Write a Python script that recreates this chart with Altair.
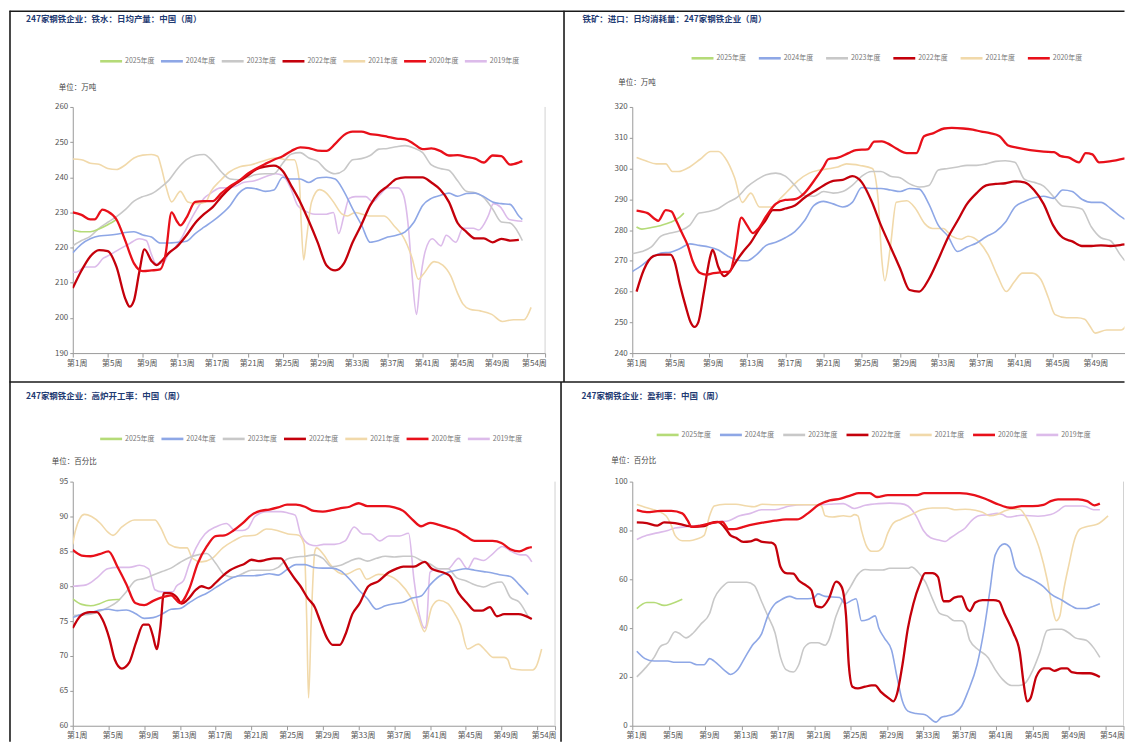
import altair as alt
import pandas as pd

YEARS = ["2025年度", "2024年度", "2023年度", "2022年度", "2021年度", "2020年度", "2019年度"]
COLORS = ["#B5DB78", "#8EA7E6", "#C8C8C8", "#C4000B", "#F1D9AA", "#E8101A", "#DCBBEA"]
WIDTHS = [1.6, 1.6, 1.6, 2.3, 1.6, 2.3, 1.6]
DRAW_ORDER = ["2019年度", "2021年度", "2023年度", "2024年度", "2025年度", "2022年度", "2020年度"]


def wk(vals, tail=()):
    return [(i + 1, v) for i, v in enumerate(vals)] + list(tail)


# ---------------- 铁水日均产量 (万吨) ----------------
P1_2025 = [(1, 225), (2, 224.5), (3, 224.5), (4, 225.3), (5, 226.5), (6, 228)]
P1_2024 = wk([218.5, 221, 222.5, 223.3, 223.5, 223.8, 224.3, 224.5, 223.6, 223,
              221.3, 221.3, 221.5, 221.8, 224, 225.8, 227.5, 229.5, 232, 235.5,
              237, 236.7, 236, 236.4, 240, 239.5, 239.5, 238.5, 239.8, 240,
              239.5, 236, 231, 226.5, 221.5, 222, 223, 223.5, 224.5, 227.2,
              232, 234, 234.8, 235.5, 234.6, 235.4, 235.5, 234.5, 233, 232.5,
              232.3, 229], [(52.4, 228)])
P1_2023 = wk([220.5, 222, 223.2, 225.5, 227.2, 228.8, 230.8, 233.2, 234.5, 235.3,
              237, 239.2, 242.5, 245, 246.2, 246.5, 244.5, 241.5, 239.5, 239.3,
              240, 240.8, 241, 241, 244, 246.6, 247, 245.5, 244.5, 242,
              241, 242, 245, 245.3, 246.2, 248, 248.2, 248.7, 249, 248.3,
              247, 243.5, 242.5, 242, 239, 236, 235.6, 234.2, 231, 227.3,
              227, 224], [(52.4, 222)])
P1_2022 = [(1, 208.5), (2, 213.5), (3, 217.5), (4, 219.3), (5, 219), (6, 214.5), (7, 205.5),
           (7.5, 203.2), (8, 205), (8.6, 213), (9.2, 219.5), (10, 216.2), (10.6, 215), (11, 215.8),
           (12, 218.5), (13, 220.5), (14, 223.5), (15, 227), (16, 229.5), (17, 231.5), (18, 234.5),
           (19, 237), (20, 238.8), (21, 240.5), (22, 242.3), (23, 243), (24, 243.3), (25, 241.8),
           (26, 237.5), (27, 233), (28, 227.5), (29, 221.5), (30, 215), (31, 213.5), (32, 215.5),
           (33, 221.5), (34, 226.5), (35, 232), (36, 235.5), (37, 237.5), (38, 239.5), (39, 240),
           (40, 240), (41, 240), (42, 238.5), (43, 236.5), (44, 233), (45, 227), (46, 224.5),
           (47, 222.6), (48, 222.6), (49, 221.5), (50, 222.5), (51, 222), (52, 222.2)]
P1_2021 = [(1, 245.2), (2, 245), (3, 244), (4, 243.7), (5, 242.5), (6, 242.2), (7, 243.5), (8, 245.5),
           (9, 246.3), (10, 246.5), (10.7, 246), (11.1, 243), (11.7, 237), (12.3, 233), (13.3, 236),
           (14.15, 233), (15.2, 232.5), (16.2, 233), (16.8, 236), (17.85, 239), (18.9, 241.5),
           (20.1, 243), (21.3, 243.5), (22.6, 244.5), (24.2, 245.5), (25.5, 245), (26.3, 245),
           (26.9, 239), (27.1, 228), (27.4, 216.5), (27.7, 222), (28.3, 233), (29.2, 236.5),
           (30, 235.5), (30.8, 233), (31.8, 229.5), (32.4, 229), (33.3, 230), (34.9, 229),
           (36.6, 229), (37.8, 226), (38.8, 223), (39.8, 217), (40.5, 211), (41.1, 212.5),
           (42.3, 216), (43.3, 215), (44.2, 212), (45, 207), (45.6, 204), (46.4, 202.5),
           (47.6, 202), (48.9, 201), (50.1, 199), (51.4, 199.5), (52.6, 199.5), (53.4, 203)]
P1_2020 = [(1, 230), (2, 229.3), (3, 228), (3.5, 228), (4.4, 230.8), (5, 230.3), (6, 228), (7, 222),
           (8, 215.5), (9, 213.3), (10, 213.5), (11, 213.8), (11.6, 218), (12.3, 230), (12.9, 227.5),
           (13.3, 226.3), (14, 228.5), (15, 233), (16, 233.2), (17, 233.2), (18, 235.5), (19, 237.5),
           (20, 239), (21, 241), (22, 242.5), (23, 243.8), (24, 245), (25, 246), (26, 247.5),
           (27, 248.5), (28, 248.3), (29, 247.6), (30, 247.5), (31, 249.5), (32, 252), (33, 253),
           (34, 253), (35, 252.3), (36, 252), (37, 251.5), (38, 251), (39, 250.8), (40, 249.5),
           (41, 248), (42, 248.2), (43, 247.5), (44, 246.2), (45, 246.3), (46, 245.8), (47, 245.3),
           (48, 244.2), (49, 246.2), (50, 246), (51, 243.6), (52, 244.2), (52.4, 244.6)]
P1_2019 = [(1, 213), (1.4, 213), (2.4, 214.5), (3.5, 214.5), (4.5, 217), (5.3, 218), (6.3, 219.5),
           (7.4, 221), (8.6, 222.5), (9.4, 222), (10, 218), (10.5, 215.5), (11.3, 215.5), (11.9, 218),
           (12.7, 220), (13.5, 223), (14.4, 227.5), (15.2, 231), (16, 234), (16.8, 235.5),
           (17.9, 237), (18.9, 237), (19.7, 237.5), (20.5, 238.5), (21.8, 239), (23.4, 240.5),
           (24.2, 241), (25, 240.5), (25.9, 237), (26.7, 232), (27.5, 230.5), (28.7, 229.5),
           (30, 229.5), (30.8, 230), (31.4, 224), (32, 229), (32.6, 234), (33.3, 234.5),
           (34.5, 234.5), (35.3, 233), (36.1, 235), (37, 237), (38.2, 237), (38.8, 235),
           (39.4, 225), (39.8, 212), (40.3, 201), (40.7, 210), (41.3, 219), (42.1, 222.5),
           (43.1, 220.5), (43.7, 223.5), (44.8, 221.5), (45.6, 225.5), (46.8, 225.5), (47.4, 225),
           (48.5, 229), (49.1, 232.5), (49.9, 231.5), (50.9, 228), (52.4, 227.5)]

# ---------------- 铁矿日均消耗量 (万吨) ----------------
P2_2025 = [(1.45, 281), (2, 280.3), (3, 280.8), (4, 281.5), (5, 282.5), (6, 284.3), (6.4, 285.5)]
P2_2024 = wk([266.5, 268.5, 271, 272.5, 272.8, 274, 275.5, 275, 274.5, 273.5,
              271.5, 270.2, 270, 272, 275, 276, 277.5, 279.5, 283, 288,
              289.3, 288.5, 287.5, 289, 293.8, 293.5, 293.5, 293, 292.5, 293.5,
              293.3, 288.5, 281.5, 278, 273, 274.5, 275.8, 277.8, 279.5, 282.5,
              287.5, 289.3, 290.5, 291, 290.3, 293, 292.5, 290, 289, 289,
              287, 284.5], [(52.5, 283.5)])
P2_2023 = wk([272.3, 273, 274.5, 278, 279, 279.8, 281.5, 285.5, 286, 287,
              289, 290.7, 294, 296.3, 298, 298.5, 297.5, 294.5, 291.2, 291,
              292.5, 292, 292.5, 294.5, 297.5, 299, 299, 297.5, 297, 295,
              294, 294.5, 299.5, 300, 300.5, 301, 301, 301.5, 302.3, 302.5,
              302, 296.5, 295.5, 294.3, 291, 287.8, 287.5, 286.8, 281, 277.5,
              276.5, 272], [(52.5, 270)])
P2_2022 = [(1.45, 260), (2.2, 267), (3.2, 271.5), (4, 272), (5, 272), (5.4, 270), (6, 262), (6.6, 255),
           (7.1, 250), (7.5, 248.5), (7.9, 250), (8.5, 260), (9.2, 272), (9.4, 273.5), (10, 268),
           (10.6, 265), (11.3, 267), (11.9, 270), (12.6, 273), (13.4, 276), (14.2, 280), (14.9, 283),
           (15.7, 286.5), (16.4, 286.5), (17, 287), (18, 288), (19, 290.5), (20, 292.5), (21, 294.5),
           (22, 296), (23, 296.3), (24, 297.5), (25, 295.5), (26, 289.5), (27, 281.5), (28, 274.5),
           (29, 267.5), (30, 260.5), (31, 260), (32, 264), (33, 270.5), (34, 277.5), (35, 283),
           (36, 288.5), (37, 292), (38, 294.5), (39, 295), (40, 295.2), (41, 295.8), (42, 295.5),
           (43, 293), (44, 288.5), (45, 281.5), (46, 277.5), (47, 276.3), (48, 274.8), (49, 274.8),
           (50, 275), (51, 274.8), (52, 275.1), (52.5, 275.3)]
P2_2021 = [(1.45, 303.6), (2.4, 302.5), (3.5, 301.5), (4.5, 301.5), (5.2, 299), (5.8, 299), (7, 300.5),
           (8.1, 303), (9.2, 305.5), (10, 305.5), (10.7, 303.5), (11.7, 297), (12.5, 289), (13.4, 292),
           (14.3, 287.5), (15.7, 287.5), (16.4, 290), (17.2, 292.5), (18.3, 296), (19.5, 298.5),
           (20.6, 299.5), (21.7, 300), (22.5, 300.5), (23.4, 301.5), (24.8, 301), (26.1, 300),
           (26.7, 290), (27.1, 270), (27.4, 263.5), (28, 275), (28.6, 289), (29.7, 289.5),
           (30.6, 287), (31.6, 282), (32.4, 280.5), (33.5, 280.5), (34.4, 278), (35.4, 277),
           (36.1, 278), (37.3, 276), (38.2, 272), (39.2, 265), (40.1, 260), (40.9, 263),
           (41.8, 266), (42.8, 266), (43.7, 264), (44.5, 258), (45.2, 252.5), (46.4, 251.5),
           (47.5, 251.5), (48.3, 251), (48.8, 249), (49.4, 246.5), (50.6, 247.5), (52.1, 247.5),
           (53.25, 252.5)]
P2_2020 = [(1.45, 286.3), (2, 286), (2.6, 285.5), (3.4, 283.5), (3.7, 283), (4.5, 286.5), (5.1, 286),
           (5.6, 283), (6.2, 279), (6.8, 275), (7.3, 270), (8.1, 266), (8.7, 265.5), (9.5, 266),
           (10.4, 266.3), (11.2, 266.5), (11.7, 272), (12.4, 284), (13, 281.5), (13.6, 279),
           (14.2, 280.5), (15, 284.5), (16, 288.5), (17, 289.8), (18, 290), (19, 292), (20, 296),
           (21, 300.5), (21.5, 303), (22.5, 303.5), (23.6, 305), (24.4, 306), (25.6, 306.2),
           (26.3, 308.7), (27.1, 308.8), (27.8, 308), (28.6, 306.5), (29.7, 305), (30.7, 305),
           (31.5, 310.5), (32.5, 311.5), (33.6, 313), (34.4, 313.2), (35.6, 313), (36.6, 312.6),
           (37.5, 312), (38.4, 311.5), (39.4, 310.5), (40.3, 307.5), (41.2, 306.8), (42.6, 306),
           (44, 305.5), (45.1, 305.3), (45.8, 304), (46.6, 303.6), (47.7, 302), (48.4, 305),
           (49.1, 304.6), (49.8, 302), (50.9, 302.3), (52.5, 303.3)]

# ---------------- 高炉开工率 (%) ----------------
P3_2025 = [(1, 78.2), (2, 77.4), (3, 77.2), (4, 77.5), (5, 78), (6, 78.1), (6.3, 78.1)]
P3_2024 = wk([75.5, 76, 76.2, 76.6, 76.7, 76.5, 76.6, 76.1, 75.4, 75.5,
              76, 76.7, 76.8, 77.6, 78.4, 79, 79.8, 80.6, 81.3, 81.5,
              81.5, 81.6, 81.8, 81.6, 82.4, 83.1, 83.1, 82.7, 82.6, 82.6,
              82.2, 81, 79.5, 78.2, 76.7, 77.2, 77.5, 77.7, 78.3, 78.6,
              80.2, 81.4, 82, 82.3, 82.5, 82.3, 82.1, 81.9, 81.6, 81.4,
              80.2, 78.8])
P3_2023 = wk([75.8, 75.9, 76, 76.4, 77, 77.8, 79.2, 80.8, 81.1, 81.6,
              82.1, 82.6, 83.4, 84.1, 84.5, 84.7, 83.3, 81.6, 81.3, 81.8,
              82.3, 82.3, 82.3, 82.7, 83.9, 84.2, 84.3, 84.5, 84, 82.8,
              83, 83.6, 84, 83.6, 84, 84.3, 84.2, 84.3, 84.3, 83.7,
              83.2, 82.5, 82.5, 81.2, 80.8, 80.2, 79.9, 80.4, 80.6, 78.4,
              77.7, 75.6])
P3_2022 = [(1, 74), (1.9, 75.8), (2.9, 76.3), (3.7, 76.3), (4.3, 75.3), (5.1, 72.5), (5.7, 69.5),
           (6.5, 68.2), (7.3, 69), (8.1, 72), (8.9, 74.5), (9.5, 74.5), (9.95, 73), (10.4, 71),
           (10.8, 74), (11.2, 79), (11.8, 79), (12.6, 78.5), (13.2, 77.5), (13.8, 78), (14.8, 79.5),
           (15.4, 80), (16.2, 79.7), (17, 80.5), (17.8, 81.5), (18.6, 82.3), (19.4, 82.8),
           (20.2, 83.2), (21, 83.8), (21.8, 83.6), (22.7, 83.8), (23.5, 84), (24.3, 84), (25.1, 82.5),
           (25.9, 81), (26.5, 80), (27.3, 78.3), (28.1, 77), (28.7, 75), (29.5, 72.5), (30.1, 71.6),
           (30.9, 71.6), (31.5, 73), (32.3, 76), (33.1, 77.5), (34.1, 80), (35.2, 80.7), (36.4, 82),
           (37.2, 82.5), (38, 82.8), (39.2, 82.8), (40.4, 83.5), (41.2, 82.5), (42.4, 82),
           (43.2, 81.5), (44.2, 79), (45.2, 77.5), (46, 76.5), (46.8, 76.5), (47.7, 77), (48.5, 75.7),
           (49.3, 76), (50.9, 76), (52.4, 75.3)]
P3_2021 = [(1, 86), (1.3, 88), (2.3, 90.3), (3.1, 90), (4.1, 89), (4.9, 87.8), (5.5, 87.3), (6.5, 88.5),
           (7.9, 89.5), (10.2, 89.5), (10.8, 88.5), (11.8, 86), (13, 85.5), (13.8, 85.5), (14.4, 84),
           (15.4, 83.5), (16.6, 84), (17.8, 85.5), (19, 86.5), (20.2, 87.2), (21.4, 87.3), (22.7, 88.2),
           (23.9, 88), (25.1, 87.5), (26.3, 87.3), (26.9, 86), (27.2, 75), (27.4, 64), (27.7, 75),
           (28.1, 85), (28.3, 85.5), (29.1, 84.5), (29.9, 83), (30.7, 82), (31.5, 81.7), (33.1, 82.5),
           (33.9, 81), (35.2, 81.7), (36.4, 81.5), (37.6, 80.5), (38.8, 78.5), (39.6, 76),
           (40.4, 73.5), (41.2, 77), (42, 78), (43, 77.5), (43.8, 76), (44.4, 74.5), (45.2, 71),
           (46.4, 71.7), (47.2, 70.8), (48.1, 69.8), (49.3, 69.8), (49.7, 69.5), (50.1, 68.2),
           (51.3, 68), (52.5, 68), (52.9, 68.5), (53.5, 71)]
P3_2020 = wk([85.2, 84.4, 84.3, 84.6, 85, 82.8, 80.3, 77.6, 77.3, 77.9,
              78.4, 78.7, 77.6, 79.5, 83.3, 85.7, 87.2, 87.3, 88, 89,
              90.2, 90.8, 91, 91.3, 91.7, 91.7, 91.4, 90.8, 90.7, 90.9,
              91.2, 91.4, 91.9, 91.5, 91.5, 91.5, 91.3, 90.8, 89.6, 88.6,
              89.1, 88.8, 88.4, 88, 87.2, 86.5, 86.5, 86.5, 86.2, 85.3,
              85, 85.5], [(52.4, 85.6)])
P3_2019 = [(1, 80), (2.5, 80.2), (3.7, 81.2), (4.9, 82.5), (6.1, 82.7), (7.3, 82.7), (8.5, 83),
           (9.5, 82.5), (10.2, 79.5), (11, 79.2), (12.2, 79.2), (12.6, 80), (13.4, 80.8), (14, 83),
           (14.8, 85.5), (15.8, 87.5), (17, 88.5), (18.2, 89), (19.2, 88), (20, 88), (20.6, 88.3),
           (21.4, 90), (22.7, 90.7), (24.3, 90.7), (25.1, 90.5), (25.9, 90.2), (26.5, 87.5),
           (27.5, 86), (28.3, 85.8), (29.1, 86), (30.3, 86), (31.5, 86.5), (32.5, 88.5), (33.5, 87.5),
           (34.3, 87.5), (35.4, 86.5), (36.4, 87.2), (37.6, 87.2), (38.6, 87.6), (39.2, 81),
           (39.8, 76), (40.4, 74), (40.6, 74.5), (41, 82), (41.8, 82.5), (43, 82.5), (44.2, 84),
           (45.2, 82.5), (46, 84), (47, 83.7), (47.9, 84.5), (49.1, 85.7), (50.1, 85), (51.1, 84.5),
           (51.7, 84.5), (52.4, 83.5)]

# ---------------- 盈利率 (%) ----------------
P4_2025 = [(1.5, 48), (2.6, 50.5), (3.4, 50.5), (4.5, 49.3), (5.3, 50), (6.5, 51.8)]
P4_2024 = [(1.5, 30.5), (2.4, 27.5), (3.4, 26.5), (4.9, 26.5), (5.7, 26), (7.3, 26), (8.1, 25), (8.9, 25),
           (9.5, 27.5), (10, 26.5), (11.2, 22.5), (11.8, 21), (12.6, 23), (13.4, 28), (14.2, 33),
           (15.2, 37.5), (15.9, 45), (16.7, 50), (17.1, 51), (18.3, 53), (19.1, 52), (20.3, 52),
           (21, 52.5), (21.4, 54), (22.2, 53), (23.8, 52.5), (24.4, 50), (25.2, 51.5), (25.6, 52),
           (26.2, 43), (26.9, 43.5), (27.7, 45), (28.1, 40), (28.7, 36), (29.5, 31), (30.1, 20),
           (30.7, 10), (31.3, 6), (32.2, 5), (33.2, 4.5), (34.4, 1.5), (35, 3.5), (35.6, 4), (36.4, 5),
           (37.2, 8), (37.9, 14), (38.9, 25), (39.7, 40), (40.3, 55), (40.9, 70), (41.9, 74.5),
           (42.5, 73), (43.1, 65), (43.8, 62), (44.6, 60.5), (45.4, 59), (46.2, 57), (47, 54),
           (48.2, 51.5), (49.3, 49), (49.9, 48), (50.9, 48), (51.7, 49), (52.4, 50)]
P4_2023 = [(1.5, 20), (2.4, 23.5), (3.4, 28), (4.1, 32.5), (4.9, 34), (5.7, 38.5), (6.1, 38), (6.9, 36),
           (7.7, 38), (8.5, 41.5), (9.5, 46), (10, 52), (10.8, 56.5), (11.6, 58.8), (13.6, 58.8),
           (14.4, 57.5), (15.2, 51), (15.9, 45), (16.7, 38), (17.3, 28), (17.9, 23), (18.7, 22),
           (19.3, 25), (19.9, 32), (20.7, 34), (21.4, 34), (22.2, 33), (22.6, 35), (23.4, 45),
           (24.2, 52), (25, 57), (25.8, 62), (26.6, 64), (27.3, 63.8), (28.5, 63.8), (29.3, 64.5),
           (31.3, 64.5), (31.7, 65), (32.4, 63), (33.2, 59), (34, 52), (34.8, 46), (35.6, 45),
           (36.4, 43), (37.2, 43), (37.6, 41.5), (38.1, 35), (39.1, 31), (40.1, 28), (40.9, 23),
           (41.7, 19), (42.7, 16.5), (43.5, 16.5), (44.2, 17.5), (44.8, 21), (45.8, 30), (46.6, 39),
           (47.4, 39.5), (48.2, 39.5), (49, 38), (49.7, 36), (50.9, 35), (51.7, 32), (52.4, 28)]
P4_2022 = [(1.5, 83.3), (2.6, 83), (3.75, 82), (4.5, 83.3), (5.7, 83), (6.9, 82), (7.7, 81.5),
           (8.9, 81.8), (9.6, 83), (10.4, 83.5), (11.4, 80), (11.8, 78), (12.4, 77), (13.2, 75.3),
           (14, 75.5), (14.6, 76.3), (15.3, 75.3), (16.3, 75), (16.7, 74), (17.3, 65), (17.9, 62.5),
           (18.7, 62.3), (19.3, 59.5), (20.1, 57.5), (20.7, 55.5), (21.2, 49), (21.8, 48.5),
           (22.6, 52), (23.4, 59), (24, 57), (24.5, 45), (24.8, 25), (25.2, 16), (25.8, 15.3),
           (26.6, 16), (27.3, 16.5), (27.7, 16.5), (28.3, 14), (29.3, 11), (29.7, 10), (30.1, 13),
           (30.7, 25), (31.3, 40), (31.9, 50), (32.6, 58), (33.2, 62.5), (34, 62.5), (34.6, 61),
           (35.2, 51), (35.8, 51), (36.4, 52.5), (37.2, 53), (37.8, 48), (38.1, 47), (38.7, 50.5),
           (39.5, 51.5), (40.7, 51.5), (41.3, 51), (41.9, 46), (42.9, 38), (43.6, 30), (44, 18),
           (44.4, 10), (44.8, 11.5), (45.4, 20), (46.2, 23.5), (46.8, 23.5), (47.4, 22.5),
           (48.2, 23.5), (48.8, 23.5), (49.3, 22), (50.5, 21.5), (51.3, 21.5), (52.4, 20)]
P4_2021 = [(1.5, 90.6), (2.4, 89.5), (3.75, 88), (4.7, 86), (5.3, 82), (5.7, 78), (6.5, 75.8),
           (7.3, 75.8), (8.1, 76.5), (8.9, 78), (9.5, 86), (10, 90), (11.2, 90.7), (12.4, 90.7),
           (13.6, 90), (14.4, 89.7), (15.3, 90.7), (16.7, 90.5), (18.3, 90.5), (19.9, 90.5),
           (21.4, 90.5), (21.8, 90), (22.2, 86), (23, 85.5), (24.2, 86), (25, 85.7), (25.4, 86.5),
           (25.8, 86), (26.2, 80), (26.7, 74), (27.3, 71.5), (27.9, 71.5), (28.5, 73), (29.1, 79),
           (29.7, 83), (30.5, 84.5), (31.7, 86.5), (32.8, 88.5), (34, 89.2), (35.6, 89.2),
           (36.4, 88.5), (37.6, 88.7), (38.7, 88.3), (39.5, 87.5), (40.3, 86), (41.1, 86.5),
           (41.9, 88), (42.9, 88.8), (43.6, 88.7), (44.2, 86), (45, 80), (45.8, 72), (46.6, 60),
           (47.2, 48), (47.6, 43), (48, 45), (48.4, 55), (49, 66), (49.6, 76), (50.2, 80.5),
           (50.9, 81.5), (52.1, 82.5), (53.3, 86)]
P4_2020 = [(1.5, 88.3), (2.6, 87.5), (4.1, 88), (5.3, 88), (6.5, 87), (7.1, 84), (7.5, 81.5), (8.5, 82),
           (9.7, 83), (10.9, 83.5), (11.6, 80.5), (12.2, 80.5), (13.2, 81.5), (14.3, 82.5),
           (15.5, 83.3), (16.7, 84), (17.9, 84.5), (19.1, 84.5), (20.3, 87), (21.5, 90.5),
           (22.7, 92.3), (23.9, 93), (25.1, 94.5), (25.9, 95.3), (27.1, 95.3), (27.9, 93.7),
           (29.1, 94.5), (30.7, 94.5), (32.3, 94.5), (33.1, 95.3), (35, 95.3), (37, 95.3),
           (38.6, 94.5), (39.8, 93), (41, 91), (42.2, 89.5), (42.8, 89.3), (43.8, 90), (45, 90),
           (46.2, 90.5), (47, 92), (47.8, 92.7), (50, 92.7), (51, 92), (51.8, 90.3), (52.4, 91)]
P4_2019 = [(1.5, 76.3), (2.6, 78), (3.75, 79), (4.9, 80), (5.7, 81), (6.9, 81.5), (8.1, 82), (9.3, 82.5),
           (10.4, 83.5), (11.6, 84), (12.8, 86), (14, 87), (15.2, 88.5), (16.7, 88.5), (18.3, 90),
           (19.9, 90.5), (21.4, 90.5), (22.6, 90.7), (24.2, 91), (25.4, 89), (26.6, 90.3), (28.1, 91),
           (29.3, 91.2), (30.5, 91), (31.3, 90), (32.2, 86), (33, 80), (33.8, 77), (34.8, 76),
           (35.4, 75.5), (36, 77), (36.8, 79), (37.6, 81), (38.3, 84), (39.1, 86), (40.3, 86.5),
           (41.1, 87), (41.7, 86.5), (42.3, 85.5), (43.8, 86.2), (45.6, 85.8), (47, 86.5), (47.8, 88),
           (48.6, 90), (50.5, 90), (50.9, 89.7), (51.7, 88.5), (52.4, 88.5)]

TITLES = ["247家钢铁企业：铁水：日均产量：中国（周）",
          "铁矿：进口：日均消耗量：247家钢铁企业（周）",
          "247家钢铁企业：高炉开工率：中国（周）",
          "247家钢铁企业：盈利率：中国（周）"]
UNITS = ["单位：万吨", "单位：万吨", "单位：百分比", "单位：百分比"]

NARROW = "Liberation Sans Narrow, Arial Narrow, Noto Sans CJK SC, sans-serif"
CJK = "Noto Sans CJK SC"
ONE = pd.DataFrame({"k": [0]})


def frame(series):
    rows = []
    for yr in DRAW_ORDER:
        for w, v in series.get(yr, []):
            rows.append({"年度": yr, "week": w, "value": v, "sw": WIDTHS[YEARS.index(yr)]})
    return pd.DataFrame(rows)


def panel(series, title, unit, ydom, ystep, xmax, w, h, leg, colpad, ttl, unt, borders, right_line=True):
    df = frame(series)
    present = [y for y in YEARS if y in series]
    cols = [COLORS[YEARS.index(y)] for y in present]
    xvals = [v for v in range(1, 54, 4) if v <= xmax]
    if xmax >= 55:
        xvals += [54, 55]
    label_expr = ("datum.value == 54 ? '第54周' : (datum.value == 53 || datum.value == 55) ? '' : "
                  "'第' + datum.value + '周'")
    lines = alt.Chart(df).mark_line(interpolate="monotone", clip=True).encode(
        x=alt.X("week:Q", scale=alt.Scale(domain=[1, xmax], nice=False, zero=False),
                axis=alt.Axis(values=xvals, labelExpr=label_expr, title=None, grid=False,
                              domainColor="#9a9a9a", tickSize=4, labelFontSize=8, labelColor="#555",
                              labelFont=NARROW, labelPadding=2, labelFlush=False, labelOverlap=False,
                              labelAlign={"condition": {"test": "datum.value == 54", "value": "right"},
                                          "value": "center"},
                              labelOffset={"condition": {"test": "datum.value == 54", "value": 10},
                                           "value": 4},
                              tickColor={"condition": {"test": "datum.value == 54", "value": "transparent"},
                                         "value": "#9a9a9a"})),
        y=alt.Y("value:Q", scale=alt.Scale(domain=ydom, nice=False, zero=False),
                axis=alt.Axis(values=list(range(ydom[0], ydom[1] + 1, ystep)), title=None, grid=False,
                              domainColor="#9a9a9a", tickColor="#9a9a9a", tickSize=3, labelFontSize=8,
                              labelColor="#555", labelFont=NARROW, labelPadding=2)),
        color=alt.Color("年度:N", scale=alt.Scale(domain=present, range=cols),
                        legend=alt.Legend(title=None, orient="none", legendX=leg[0], legendY=leg[1],
                                          direction="horizontal", symbolType="stroke", symbolSize=484,
                                          symbolStrokeWidth=2.6, labelFontSize=7, labelColor="#777",
                                          labelFont=NARROW, columnPadding=colpad, labelOffset=1.5)),
        strokeWidth=alt.StrokeWidth("sw:Q", scale=None),
    )
    layers = [lines]
    if right_line:
        layers.append(alt.Chart(ONE).mark_rule(color="#d2d2d2", strokeWidth=1).encode(
            x=alt.value(w), y=alt.value(0), y2=alt.value(h)))
    layers.append(alt.Chart(ONE).mark_text(text=title, align="left", baseline="middle", font=CJK,
                                           fontSize=8.5, fontWeight="bold", color="#1F3B73").encode(
        x=alt.value(ttl[0]), y=alt.value(ttl[1])))
    layers.append(alt.Chart(ONE).mark_text(text=unit, align="left", baseline="middle", font=CJK,
                                           fontSize=7.5, color="#444").encode(
        x=alt.value(unt[0]), y=alt.value(unt[1])))
    for (x1, y1, x2, y2) in borders:
        layers.append(alt.Chart(ONE).mark_rule(color="#1a1a1a", strokeWidth=1.6).encode(
            x=alt.value(x1), y=alt.value(y1), x2=alt.value(x2), y2=alt.value(y2)))
    return alt.layer(*layers).properties(width=w, height=h)


p1 = panel({"2025年度": P1_2025, "2024年度": P1_2024, "2023年度": P1_2023, "2022年度": P1_2022,
            "2021年度": P1_2021, "2020年度": P1_2020, "2019年度": P1_2019},
           TITLES[0], UNITS[0], (190, 260), 10, 55, 474, 247, (26, -58.5), 0, (-47, -88), (-14, -19),
           [(-63.5, -96, 493, -96), (-63, -96.5, -63, 276), (493, -96.5, 493, 276), (-63.5, 276, 493, 276)])
p2 = panel({"2025年度": P2_2025, "2024年度": P2_2024, "2023年度": P2_2023, "2022年度": P2_2022,
            "2021年度": P2_2021, "2020年度": P2_2020},
           TITLES[1], UNITS[1], (240, 320), 10, 52.46, 494, 247, (58, -61.5), 6.5, (-50, -88), (-14, -24),
           [(-68.5, -96, 494, -96), (-68.5, 276, 494, 276)], right_line=False)
p3 = panel({"2025年度": P3_2025, "2024年度": P3_2024, "2023年度": P3_2023, "2022年度": P3_2022,
            "2021年度": P3_2021, "2020年度": P3_2020, "2019年度": P3_2019},
           TITLES[2], UNITS[2], (60, 95), 5, 55, 484, 245, (26, -55.5), 0.5, (-47, -86), (-21, -20),
           [(-63, -100, -63, 261), (490, -100, 490, 261)])
p4 = panel({"2025年度": P4_2025, "2024年度": P4_2024, "2023年度": P4_2023, "2022年度": P4_2022,
            "2021年度": P4_2021, "2020年度": P4_2020, "2019年度": P4_2019},
           TITLES[3], UNITS[3], (0, 100), 20, 55, 493, 245, (23, -59.5), 2.5, (-51, -86), (-21, -21),
           [])

chart = alt.concat(p1, p2, p3, p4, columns=2, spacing={"row": 129, "column": 77.5},
                   bounds="flush", align="each").resolve_scale(color="independent").properties(
    padding=0, background="white").configure_view(stroke=None)

chart.save("out.html", embed_options={"renderer": "svg", "actions": False})
